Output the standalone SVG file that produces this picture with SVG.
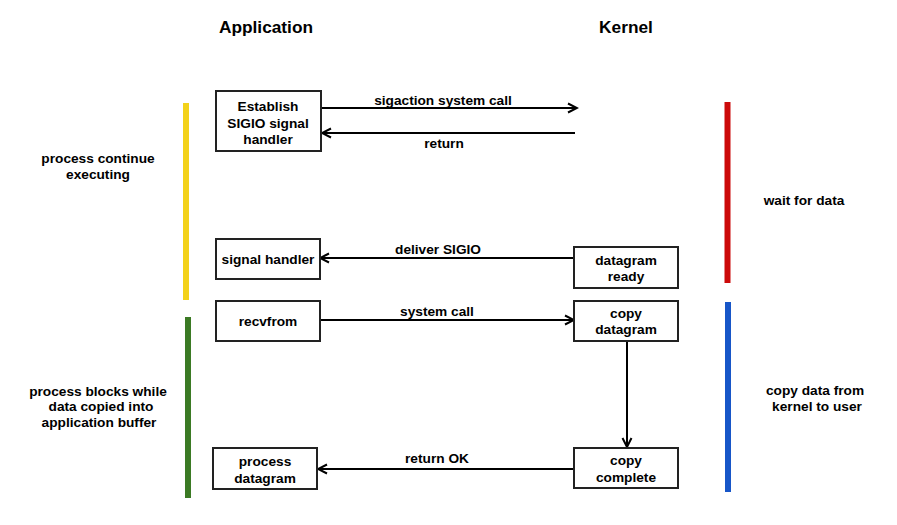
<svg xmlns="http://www.w3.org/2000/svg" width="897" height="525" viewBox="0 0 897 525">
<style>
text{font-family:"Liberation Sans",Arial,sans-serif;font-weight:bold;fill:#000;text-anchor:middle;font-size:13.7px}
.title{font-size:17.3px}
.box{fill:#fff;stroke:#222;stroke-width:2}
.conn{stroke:#000;stroke-width:2;fill:none}
.bar{stroke-width:6;fill:none}
</style>
<defs>
<marker id="arr" viewBox="0 0 12 12" refX="10" refY="6" markerWidth="12" markerHeight="12" markerUnits="userSpaceOnUse" orient="auto">
<path d="M1,1.5 L10,6 L1,10.5" fill="none" stroke="#000" stroke-width="2"/>
</marker>
</defs>
<rect width="897" height="525" fill="#fff"/>
<g id="titles">
<text class="title" x="266" y="33">Application</text>
<text class="title" x="626" y="33">Kernel</text>
</g>
<g id="bars">
<line class="bar" x1="186" y1="103" x2="186" y2="300" stroke="#F3D21A"/>
<line class="bar" x1="188" y1="317" x2="188" y2="498" stroke="#3B7A24"/>
<line class="bar" x1="727.5" y1="102" x2="727.5" y2="283" stroke="#CC0A0A"/>
<line class="bar" x1="728" y1="302" x2="728" y2="492" stroke="#1756C8"/>
</g>
<g id="side-labels">
<text x="98" y="163">process continue</text>
<text x="98" y="179">executing</text>
<text x="98" y="396">process blocks while</text>
<text x="101" y="411">data copied into</text>
<text x="99" y="427">application buffer</text>
<text x="804" y="205">wait for data</text>
<text x="815" y="395">copy data from</text>
<text x="817" y="411">kernel to user</text>
</g>
<g id="connectors">
<line class="conn" x1="321" y1="108" x2="577" y2="108" marker-end="url(#arr)"/>
<line class="conn" x1="575" y1="133" x2="322" y2="133" marker-end="url(#arr)"/>
<line class="conn" x1="574" y1="258" x2="320" y2="258" marker-end="url(#arr)"/>
<line class="conn" x1="320" y1="320" x2="574" y2="320" marker-end="url(#arr)"/>
<line class="conn" x1="627" y1="341" x2="627" y2="447" marker-end="url(#arr)"/>
<line class="conn" x1="574" y1="469" x2="318" y2="469" marker-end="url(#arr)"/>
<text x="443" y="105">sigaction system call</text>
<text x="444" y="148">return</text>
<text x="438" y="254">deliver SIGIO</text>
<text x="437" y="316">system call</text>
<text x="437" y="463">return OK</text>
</g>
<g id="establish">
<rect class="box" x="216" y="91" width="105" height="60"/>
<text x="268" y="111">Establish</text>
<text x="268" y="128">SIGIO signal</text>
<text x="268" y="144">handler</text>
</g>
<g id="signal-handler">
<rect class="box" x="216" y="239" width="104" height="40"/>
<text x="268" y="264">signal handler</text>
</g>
<g id="recvfrom">
<rect class="box" x="216" y="301" width="104" height="40"/>
<text x="268" y="326">recvfrom</text>
</g>
<g id="process-datagram">
<rect class="box" x="213" y="448" width="104" height="41"/>
<text x="265" y="466">process</text>
<text x="265" y="483">datagram</text>
</g>
<g id="datagram-ready">
<rect class="box" x="574" y="247" width="104" height="41"/>
<text x="626" y="265">datagram</text>
<text x="626" y="281">ready</text>
</g>
<g id="copy-datagram">
<rect class="box" x="574" y="301" width="104" height="40"/>
<text x="626" y="318">copy</text>
<text x="626" y="334">datagram</text>
</g>
<g id="copy-complete">
<rect class="box" x="574" y="448" width="104" height="40"/>
<text x="626" y="465">copy</text>
<text x="626" y="482">complete</text>
</g>
</svg>
